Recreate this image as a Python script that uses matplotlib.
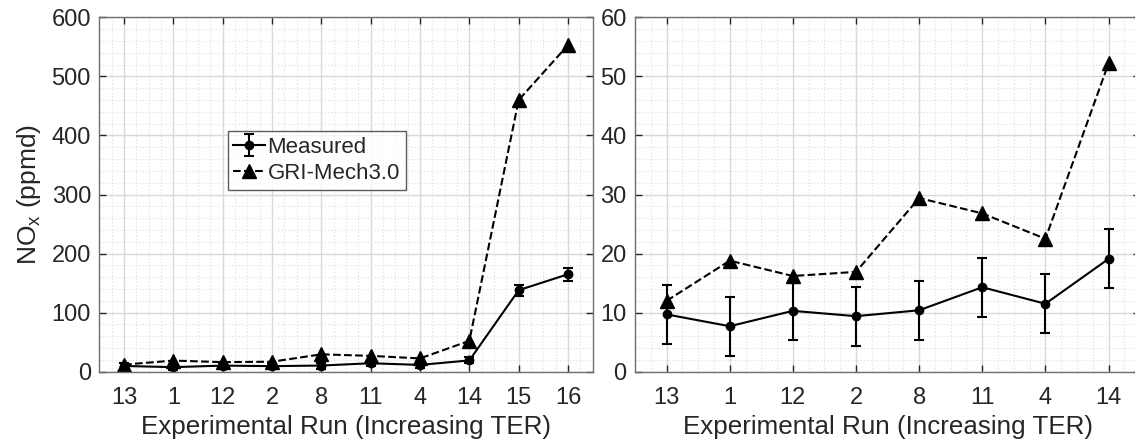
import matplotlib
matplotlib.use("Agg")
import matplotlib.pyplot as plt
from matplotlib.ticker import MultipleLocator

plt.rcParams['font.family'] = ['Liberation Sans', 'DejaVu Sans']
plt.rcParams['mathtext.fontset'] = 'custom'
plt.rcParams['mathtext.rm'] = 'Liberation Sans'

# run order (increasing TER)
runs_all = ['13', '1', '12', '2', '8', '11', '4', '14', '15', '16']
meas_all = [9.7, 7.7, 10.3, 9.4, 10.4, 14.3, 11.5, 19.1, 138, 165]
err_all = [5.0, 5.0, 5.0, 5.0, 5.0, 5.0, 5.0, 5.0, 9.0, 11.0]
gri_all = [12.0, 18.8, 16.2, 16.9, 29.4, 26.8, 22.5, 52.2, 460, 553]

# zoomed panel uses the first eight runs
runs_zoom = runs_all[:8]
meas_zoom = meas_all[:8]
err_zoom = err_all[:8]
gri_zoom = gri_all[:8]

TXT = '#262626'


def style_axes(ax, ymax, ymajor, yminor, nx):
    ax.set_xlim(0.5, nx + 0.5)
    ax.set_ylim(0, ymax)
    ax.yaxis.set_major_locator(MultipleLocator(ymajor))
    ax.yaxis.set_minor_locator(MultipleLocator(yminor))
    ax.xaxis.set_minor_locator(MultipleLocator(0.25))
    ax.grid(True, which='major', color='#d9d9d9', linewidth=1.0)
    ax.grid(True, which='minor', color='#e2e2e2', linestyle=':', linewidth=0.9)
    ax.set_axisbelow(True)
    ax.tick_params(which='major', direction='in', length=5, top=True, right=True,
                   labelsize=17, colors=TXT, width=1.0)
    ax.tick_params(axis='x', which='major', pad=11)
    ax.tick_params(axis='y', which='major', pad=6)
    ax.tick_params(which='minor', length=0)
    for s in ax.spines.values():
        s.set_color('#707070')
        s.set_linewidth(1.0)
    ax.set_xlabel('Experimental Run (Increasing TER)', fontsize=18.7, color=TXT,
                  labelpad=4)


fig = plt.figure(figsize=(11.35, 4.46), dpi=100)
ax1 = fig.add_axes([0.0875, 0.1666, 0.4347, 0.7946])
ax2 = fig.add_axes([0.5595, 0.1666, 0.4450, 0.7946])

x1 = list(range(1, len(runs_all) + 1))
h_meas = ax1.errorbar(x1, meas_all, yerr=err_all, fmt='o-', color='black', markersize=6,
                      linewidth=1.5, elinewidth=1.5, capsize=3.5, capthick=1.5)
h_gri, = ax1.plot(x1, gri_all, '^--', color='black', markersize=9.5, linewidth=1.5)
ax1.set_xticks(x1)
ax1.set_xticklabels(runs_all)
style_axes(ax1, 600, 100, 20, len(runs_all))
ax1.set_ylabel(r'NO$_\mathregular{x}$ (ppmd)', fontsize=19, color=TXT, labelpad=6)
leg = ax1.legend([h_meas, h_gri], ['Measured', 'GRI-Mech3.0'], loc='upper left',
                 bbox_to_anchor=(0.26, 0.679), fontsize=16, frameon=True, fancybox=False,
                 handlelength=1.45, handletextpad=0.1, borderpad=0.25,
                 labelspacing=0.25, borderaxespad=0)
leg.get_frame().set_edgecolor('#333333')
leg.get_frame().set_linewidth(1.0)
for t in leg.get_texts():
    t.set_color(TXT)

x2 = list(range(1, len(runs_zoom) + 1))
ax2.errorbar(x2, meas_zoom, yerr=err_zoom, fmt='o-', color='black', markersize=6,
             linewidth=1.5, elinewidth=1.5, capsize=3.5, capthick=1.5)
ax2.plot(x2, gri_zoom, '^--', color='black', markersize=9.5, linewidth=1.5)
ax2.set_xticks(x2)
ax2.set_xticklabels(runs_zoom)
style_axes(ax2, 60, 10, 2, len(runs_zoom))

fig.savefig('out.png', dpi=100)
